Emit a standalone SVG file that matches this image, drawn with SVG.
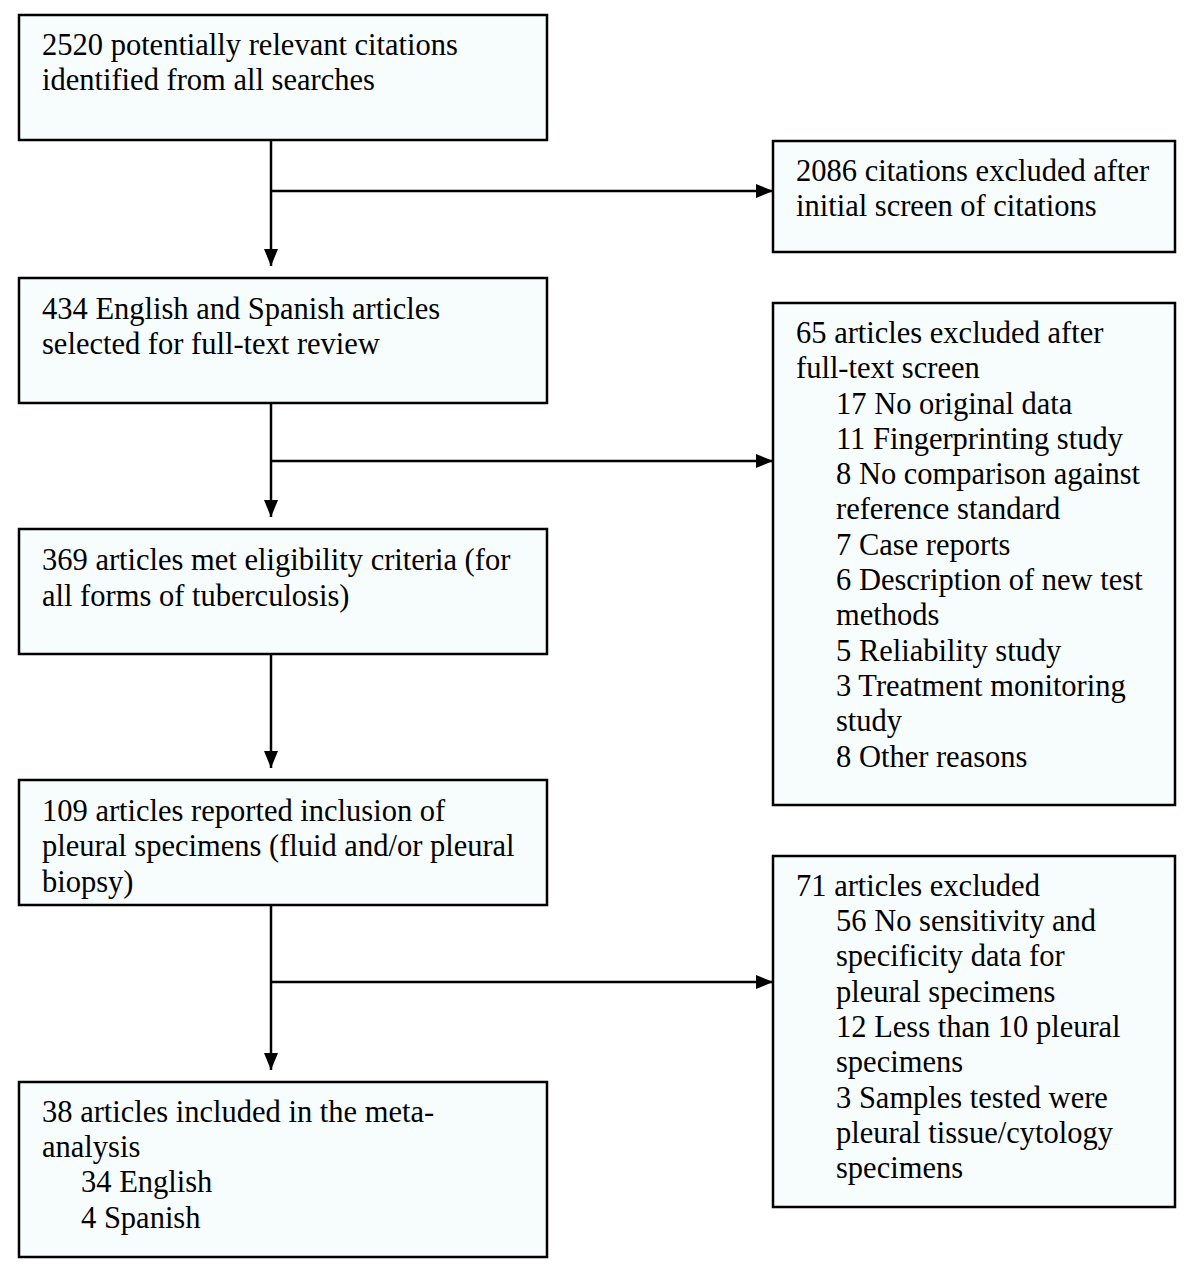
<svg xmlns="http://www.w3.org/2000/svg" width="1195" height="1276" viewBox="0 0 1195 1276">
<style>
.box{fill:#f7fcfd;stroke:#000;stroke-width:2.5}
.t{font-family:"Liberation Serif","Times New Roman",serif;font-size:30.5px;fill:#000}
.c{fill:none;stroke:#000;stroke-width:2.5}
</style>
<defs>
<marker id="ah" markerUnits="userSpaceOnUse" markerWidth="18" markerHeight="14" refX="17" refY="7" orient="auto">
<path d="M0,0 L17,7 L0,14 Z" fill="#000"/>
</marker>
</defs>
<rect width="1195" height="1276" fill="#fff"/>
<g id="connectors">
<path class="c" d="M271,140 V266" marker-end="url(#ah)"/>
<path class="c" d="M271,191 H773" marker-end="url(#ah)"/>
<path class="c" d="M271,403 V517" marker-end="url(#ah)"/>
<path class="c" d="M271,461 H773" marker-end="url(#ah)"/>
<path class="c" d="M271,654 V768" marker-end="url(#ah)"/>
<path class="c" d="M271,905 V1070" marker-end="url(#ah)"/>
<path class="c" d="M271,982 H773" marker-end="url(#ah)"/>
</g>
<g id="n1">
<rect class="box" x="19" y="15" width="528" height="125"/>
<text class="t" x="42" y="55">2520 potentially relevant citations</text>
<text class="t" x="42" y="90">identified from all searches</text>
</g>
<g id="n2">
<rect class="box" x="773" y="141" width="402" height="111"/>
<text class="t" x="796" y="181">2086 citations excluded after</text>
<text class="t" x="796" y="216">initial screen of citations</text>
</g>
<g id="n3">
<rect class="box" x="19" y="278" width="528" height="125"/>
<text class="t" x="42" y="319">434 English and Spanish articles</text>
<text class="t" x="42" y="354">selected for full-text review</text>
</g>
<g id="n4">
<rect class="box" x="773" y="303" width="402" height="502"/>
<text class="t" x="796" y="343">65 articles excluded after</text>
<text class="t" x="796" y="378">full-text screen</text>
<text class="t" x="836" y="414">17 No original data</text>
<text class="t" x="836" y="449">11 Fingerprinting study</text>
<text class="t" x="836" y="484">8 No comparison against</text>
<text class="t" x="836" y="519">reference standard</text>
<text class="t" x="836" y="555">7 Case reports</text>
<text class="t" x="836" y="590">6 Description of new test</text>
<text class="t" x="836" y="625">methods</text>
<text class="t" x="836" y="661">5 Reliability study</text>
<text class="t" x="836" y="696">3 Treatment monitoring</text>
<text class="t" x="836" y="731">study</text>
<text class="t" x="836" y="767">8 Other reasons</text>
</g>
<g id="n5">
<rect class="box" x="19" y="529" width="528" height="125"/>
<text class="t" x="42" y="570">369 articles met eligibility criteria (for</text>
<text class="t" x="42" y="606">all forms of tuberculosis)</text>
</g>
<g id="n6">
<rect class="box" x="19" y="780" width="528" height="125"/>
<text class="t" x="42" y="821">109 articles reported inclusion of</text>
<text class="t" x="42" y="856">pleural specimens (fluid and/or pleural</text>
<text class="t" x="42" y="892">biopsy)</text>
</g>
<g id="n7">
<rect class="box" x="773" y="856" width="402" height="351"/>
<text class="t" x="796" y="896">71 articles excluded</text>
<text class="t" x="836" y="931">56 No sensitivity and</text>
<text class="t" x="836" y="966">specificity data for</text>
<text class="t" x="836" y="1002">pleural specimens</text>
<text class="t" x="836" y="1037">12 Less than 10 pleural</text>
<text class="t" x="836" y="1072">specimens</text>
<text class="t" x="836" y="1108">3 Samples tested were</text>
<text class="t" x="836" y="1143">pleural tissue/cytology</text>
<text class="t" x="836" y="1178">specimens</text>
</g>
<g id="n8">
<rect class="box" x="19" y="1082" width="528" height="175"/>
<text class="t" x="42" y="1122">38 articles included in the meta-</text>
<text class="t" x="42" y="1157">analysis</text>
<text class="t" x="81" y="1192">34 English</text>
<text class="t" x="81" y="1228">4 Spanish</text>
</g>
</svg>
